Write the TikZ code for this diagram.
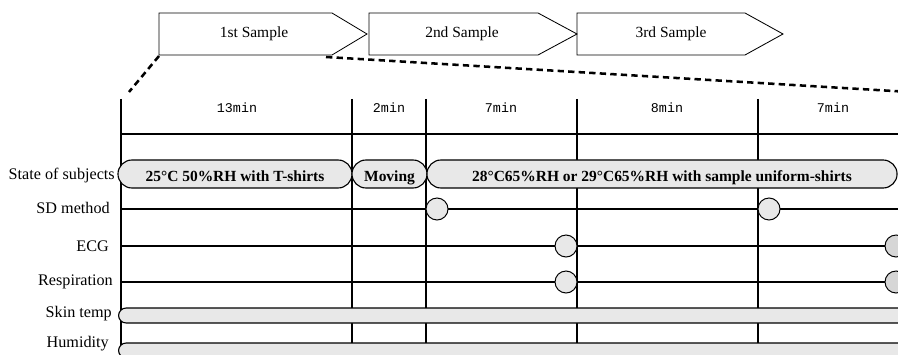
\documentclass[tikz,border=0pt]{standalone}
\usepackage{fontspec}
\setmainfont{Liberation Serif}
\setmonofont{Liberation Mono}
\definecolor{lightfill}{HTML}{E8E8E8}
\definecolor{edgefill}{HTML}{D6D6D6}

\begin{document}
\begin{tikzpicture}[x=0.025cm, y=-0.025cm,
% lines of the time table
grid/.style={line width=1.2pt},
sampletag/.style={draw, line width=0.6pt},
zoomline/.style={line width=1.8pt, dash pattern=on 4.5pt off 3pt},
pill/.style={draw, line width=0.8pt, fill=lightfill, rectangle, rounded corners=0.35cm,
    minimum height=0.7cm, inner sep=0pt, text height=10pt, text depth=0pt,
    font=\fontsize{11}{13}\selectfont\bfseries},
bar/.style={draw, line width=0.8pt, fill=lightfill, rectangle, rounded corners=0.19cm,
    minimum height=0.375cm, inner sep=0pt},
probe/.style={draw, line width=0.7pt, fill=lightfill, circle, minimum size=0.55cm, inner sep=0pt},
rowlabel/.style={anchor=east, inner sep=0pt, font=\fontsize{11.5}{13}\selectfont},
timelabel/.style={inner sep=0pt, font=\ttfamily\fontsize{9.5}{11}\selectfont},
samplelabel/.style={inner sep=0pt, font=\fontsize{11}{13}\selectfont}]
\clip (0,0) rectangle (898,354);
% sample arrows
\foreach \l/\s/\r/\c/\t [count=\i] in {159/332/367/254/1st, 369/538/577/462/2nd, 577/745/783/671/3rd} {
    \draw[sampletag] (\l,13) -- (\s,13) -- (\r,34) -- (\s,55) -- (\l,55) -- cycle;
    \node[samplelabel] (s\i) at (\c,34) {\t{} Sample};
}
% zoom lines
\coordinate (s1sw) at (159,56);
\coordinate (s1se) at (326,57);
\coordinate (tl) at (129,92);
\coordinate (tr) at (910,92);
\draw[zoomline] (s1sw) -- (tl);
\draw[zoomline] (s1se) -- (tr);
% time axis
\foreach \x [count=\i] in {121,352,426,577,758}
    \draw[grid] (\x,99) coordinate (v\i) -- (\x,360);
\draw[grid] (121,134) -- (900,134);
\foreach \x/\t [count=\i] in {237/13min, 389/2min, 501/7min, 667/8min, 833/7min}
    \node[timelabel] (t\i) at (\x,108) {\t};
% measuring rows
\foreach \y/\n in {209/sd, 246/ecg, 282/resp}
    \draw[grid] (121,\y) coordinate (\n L) -- (900,\y) coordinate (\n R);
\foreach \x/\y/\t [count=\i] in {115/176/State of subjects, 110/208/SD method, 109/246/ECG,
    113/282/Respiration, 112/314/Skin temp, 109/344/Humidity}
    \node[rowlabel] (r\i) at (\x,\y) {\t};
% state of subjects
\node[pill, minimum width=5.85cm] (st1) at (235,174) {25°C 50\%RH with T-shirts};
\node[pill, minimum width=1.875cm] (st2) at (389.5,174) {Moving};
\node[pill, minimum width=11.75cm] (st3) at (662,174) {28°C65\%RH or 29°C65\%RH with sample uniform-shirts};
% continuous records
\node[bar, minimum width=20cm, anchor=west] (skin) at (118,315.5) {};
\node[bar, minimum width=20cm, anchor=west] (hum) at (118,350.5) {};
% sampling points
\foreach \x/\y [count=\i] in {437/209, 769/209, 566/246, 566/282}
    \node[probe] (p\i) at (\x,\y) {};
\foreach \y [count=\i] in {246, 282}
    \node[probe, fill=edgefill] (q\i) at (896,\y) {};
\end{tikzpicture}
\end{document}
